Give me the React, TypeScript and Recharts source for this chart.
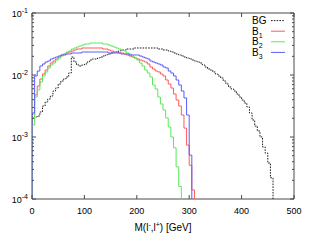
import React from 'react';
import { LineChart, Line, XAxis, YAxis, Legend, ReferenceArea } from 'recharts';

// ---- data (histograms, 5 GeV bins starting at 0) ----
const BIN_WIDTH = 5;
const Y_FLOOR = 1e-4;

const bgValues = [
  0.00235, 0.0021, 0.00218, 0.00253, 0.00316, 0.00367, 0.0041, 0.00459, 0.00552, 0.00617,
  0.00716, 0.008, 0.00862, 0.00928, 0.01077, 0.01951, 0.01621, 0.0145, 0.01397, 0.0145,
  0.01505, 0.01621, 0.01746, 0.01812, 0.01812, 0.0188, 0.01951, 0.02025, 0.02102, 0.02181,
  0.02264, 0.02349, 0.02349, 0.02438, 0.02531, 0.02531, 0.02626, 0.02626, 0.02626, 0.02726,
  0.02726, 0.02726, 0.02726, 0.02726, 0.02726, 0.02726, 0.02726, 0.02726, 0.02626, 0.02626,
  0.02531, 0.02531, 0.02438, 0.02349, 0.02264, 0.02181, 0.02102, 0.02025, 0.01951, 0.0188,
  0.01812, 0.01746, 0.01682, 0.01621, 0.01562, 0.0145, 0.01346, 0.0125, 0.01204, 0.01118,
  0.01038, 0.00964, 0.00895, 0.008, 0.00716, 0.00641, 0.00595, 0.00552, 0.00494, 0.00442,
  0.00395, 0.00354, 0.00305, 0.00244, 0.00188, 0.0015, 0.00125, 0.001, 0.00069, 0.00055,
  0.00038, 0.00022,
];

const b1Values = [
  0.00203, 0.00476, 0.00665, 0.00862, 0.01038, 0.01204, 0.01397, 0.01562, 0.01682, 0.01812,
  0.01951, 0.02102, 0.02181, 0.02264, 0.02349, 0.02438, 0.02531, 0.02626, 0.02626, 0.02726,
  0.02726, 0.02726, 0.02726, 0.02726, 0.02726, 0.02726, 0.02726, 0.02626, 0.02626, 0.02531,
  0.02438, 0.02349, 0.02349, 0.02264, 0.02264, 0.02181, 0.02102, 0.02025, 0.01951, 0.0188,
  0.01812, 0.01746, 0.01682, 0.01621, 0.01505, 0.01346, 0.0125, 0.0116, 0.01118, 0.01038,
  0.00964, 0.00831, 0.00716, 0.00617, 0.00494, 0.00395, 0.00316, 0.00226, 0.00139, 0.00074,
  0.00035, 0.00014,
];

const b2Values = [
  0.00156, 0.00442, 0.00573, 0.00771, 0.00964, 0.01118, 0.01297, 0.0145, 0.01562, 0.01746,
  0.0188, 0.02025, 0.02181, 0.02349, 0.02438, 0.02626, 0.02726, 0.02829, 0.02936, 0.03047,
  0.03162, 0.03162, 0.03281, 0.03281, 0.03281, 0.03281, 0.03281, 0.03162, 0.03162, 0.03047,
  0.02936, 0.02829, 0.02726, 0.02626, 0.02531, 0.02438, 0.02264, 0.02181, 0.02025, 0.0188,
  0.01746, 0.01562, 0.01397, 0.01204, 0.01077, 0.00928, 0.0069, 0.00595, 0.00442, 0.00341,
  0.00273, 0.00203, 0.00145, 0.001, 0.00067, 0.00033, 0.00016,
];

const b3Values = [
  0.00244, 0.00964, 0.0116, 0.01397, 0.01505, 0.01621, 0.01682, 0.01812, 0.0188, 0.01951,
  0.02025, 0.02102, 0.02102, 0.02181, 0.02181, 0.02264, 0.02264, 0.02264, 0.02264, 0.02349,
  0.02349, 0.02349, 0.02349, 0.02349, 0.02349, 0.02349, 0.02349, 0.02349, 0.02349, 0.02264,
  0.02264, 0.02264, 0.02264, 0.02264, 0.02181, 0.02181, 0.02181, 0.02102, 0.02102, 0.02102,
  0.02102, 0.02025, 0.01951, 0.0188, 0.01812, 0.01682, 0.01621, 0.01562, 0.01505, 0.0145,
  0.01346, 0.01297, 0.0116, 0.01077, 0.00964, 0.00831, 0.0069, 0.00552, 0.00426, 0.00226,
  0.00051,
];

const xTicks = [0, 100, 200, 300, 400, 500];
const yDecades = [1e-4, 1e-3, 1e-2, 1e-1];
const yExponents = ['-4', '-3', '-2', '-1'];
const minorMultipliers = [2, 3, 4, 5, 6, 7, 8, 9];

const seriesNames = ['BG', 'B', 'B', 'B'];
const seriesSubs = ['', '1', '2', '3'];
const seriesColors = ['#1e1e1e', '#ff5a5a', '#5ae85a', '#5a5aff'];

// ---- layout ----
const W = 311;
const H = 245;
const MARGIN = { top: 13, right: 17, bottom: 16, left: 0 };
const Y_AXIS_W = 32;
const X_AXIS_H = 30;
const PLOT_W = W - MARGIN.left - MARGIN.right - Y_AXIS_W;
const PLOT_H = H - MARGIN.top - MARGIN.bottom - X_AXIS_H;
const FONT = 'Liberation Sans, Arial, Helvetica, sans-serif';
const AXIS_COLOR = '#4a4a4a';

const yTicks = [
  ...yDecades,
  ...yDecades.slice(0, 3).flatMap((d) => minorMultipliers.map((m) => d * m)),
];

const toSteps = (values: number[]) => [
  { m: 0, v: Y_FLOOR },
  ...values.map((v, i) => ({ m: i * BIN_WIDTH, v })),
  { m: values.length * BIN_WIDTH, v: Y_FLOOR },
];

const series = [
  { key: 'BG', values: bgValues, dash: '1.6 1.2' },
  { key: 'B1', values: b1Values, dash: undefined },
  { key: 'B2', values: b2Values, dash: undefined },
  { key: 'B3', values: b3Values, dash: undefined },
].map((s, i) => ({
  ...s,
  data: toSteps(s.values),
  label: seriesNames[i],
  sub: seriesSubs[i],
  color: seriesColors[i],
}));

const XTick = (props: any) => {
  const { x, y, payload } = props;
  return (
    <g>
      <line x1={x} y1={y} x2={x} y2={y - 4} stroke={AXIS_COLOR} />
      <line x1={x} y1={y - PLOT_H} x2={x} y2={y - PLOT_H + 4} stroke={AXIS_COLOR} />
      <text x={x} y={y + 15} textAnchor="middle" fontSize={9} fill="#000" fontFamily={FONT}>
        {payload.value}
      </text>
    </g>
  );
};

const YTick = (props: any) => {
  const { x, y, payload } = props;
  const v = payload.value;
  const idx = yDecades.findIndex((d) => Math.abs(d - v) / d < 1e-6);
  const major = idx >= 0;
  const len = major ? 4 : 2;
  return (
    <g>
      <line x1={x} y1={y} x2={x + len} y2={y} stroke={AXIS_COLOR} />
      <line x1={x + PLOT_W} y1={y} x2={x + PLOT_W - len} y2={y} stroke={AXIS_COLOR} />
      {major && (
        <text x={x - 4} y={y + 4} textAnchor="end" fontSize={9} fill="#000" fontFamily={FONT}>
          10
          <tspan dy={-4} fontSize={7}>
            {yExponents[idx]}
          </tspan>
        </text>
      )}
    </g>
  );
};

const XLabel = (props: any) => {
  const vb = props.viewBox || { x: Y_AXIS_W, y: H - MARGIN.bottom - X_AXIS_H, width: PLOT_W };
  const cx = vb.x + vb.width / 2;
  const by = vb.y + 32;
  return (
    <text x={cx} y={by} textAnchor="middle" fontSize={10} fill="#000" fontFamily={FONT}>
      M(l
      <tspan dy={-4} fontSize={7}>-</tspan>
      <tspan dy={4}>,l</tspan>
      <tspan dy={-4} fontSize={7}>+</tspan>
      <tspan dy={4}>) [GeV]</tspan>
    </text>
  );
};

const LegendContent = () => (
  <svg width={W} height={H} style={{ display: 'block', overflow: 'visible' }}>
    {series.map((s, i) => {
      const cy = 20.6 + i * 10.6;
      return (
        <g key={s.key}>
          <text x={252} y={cy + 3.5} fontSize={10} fill="#000" fontFamily={FONT}>
            {s.label}
            {s.sub && (
              <tspan dy={3} fontSize={7}>
                {s.sub}
              </tspan>
            )}
          </text>
          <line x1={271} x2={285} y1={cy} y2={cy} stroke={s.color} strokeWidth={1} strokeDasharray={s.dash} />
        </g>
      );
    })}
  </svg>
);

export default function App() {
  return (
    <div style={{ position: 'absolute', left: 0, top: 0, width: W, height: H, background: '#fff' }}>
      <LineChart width={W} height={H} margin={MARGIN}>
        <XAxis
          dataKey="m"
          type="number"
          domain={[0, 500]}
          ticks={xTicks}
          interval={0}
          allowDataOverflow
          height={X_AXIS_H}
          axisLine={false}
          tickLine={false}
          tickSize={0}
          tickMargin={0}
          tick={<XTick />}
          label={{ content: <XLabel /> } as any}
        />
        <YAxis
          type="number"
          scale="log"
          domain={[1e-4, 1e-1]}
          ticks={yTicks}
          interval={0}
          allowDataOverflow
          width={Y_AXIS_W}
          axisLine={false}
          tickLine={false}
          tickSize={0}
          tickMargin={0}
          tick={<YTick />}
        />
        <ReferenceArea x1={0} x2={500} y1={1e-4} y2={1e-1} fill="none" stroke={AXIS_COLOR} strokeWidth={1} />
        {series.map((s) => (
          <Line
            key={s.key}
            data={s.data}
            dataKey="v"
            name={s.key}
            type="stepAfter"
            stroke={s.color}
            strokeWidth={1}
            strokeDasharray={s.dash}
            dot={false}
            activeDot={false}
            isAnimationActive={false}
          />
        ))}
        <Legend
          layout="horizontal"
          verticalAlign="middle"
          align="center"
          content={<LegendContent />}
          wrapperStyle={{ position: 'absolute', left: 0, top: 0, width: W, height: H, pointerEvents: 'none' }}
        />
      </LineChart>
    </div>
  );
}
